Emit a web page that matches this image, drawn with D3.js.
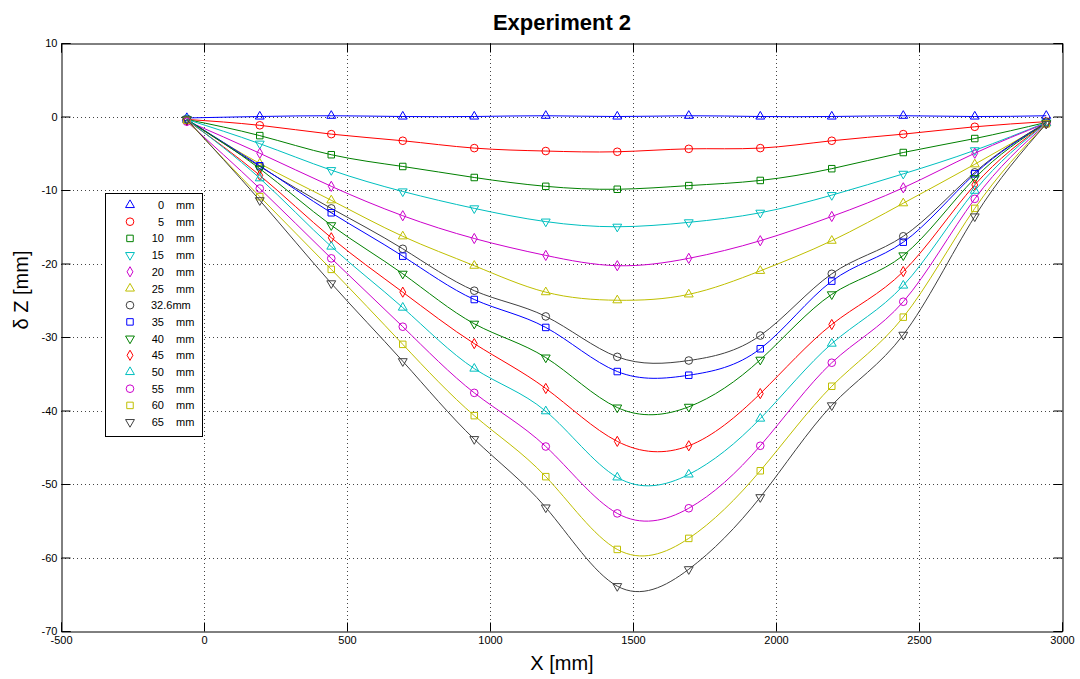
<!DOCTYPE html>
<html>
<head>
<meta charset="utf-8">
<script src="https://cdn.jsdelivr.net/npm/d3@7"></script>
<style>
  body { margin: 0; background: #fff; }
  text { font-family: "Liberation Sans", Arial, sans-serif; }
</style>
</head>
<body>
<div id="app"></div>
<script>
// positions along the beam (mm)
const xPos = [-60, 195, 445, 695, 945, 1195, 1445, 1695, 1945, 2195, 2445, 2695, 2945];

// deflection per load level (mm)
const levels = ["0", "5", "10", "15", "20", "25", "32.6", "35", "40", "45", "50", "55", "60", "65"];
const dz0   = [-0.2, 0, 0.1, 0, 0, 0.1, 0, 0.1, 0, 0, 0.1, 0, 0.1];
const dz5   = [-0.4, -1.2, -2.4, -3.3, -4.3, -4.7, -4.8, -4.4, -4.3, -3.3, -2.4, -1.4, -0.7];
const dz10  = [-0.4, -2.6, -5.2, -6.8, -8.3, -9.5, -9.9, -9.4, -8.7, -7.1, -4.9, -3.0, -0.8];
const dz15  = [-0.4, -3.7, -7.3, -10.2, -12.5, -14.3, -15.0, -14.4, -13.1, -10.7, -7.8, -4.6, -0.8];
const dz20  = [-0.6, -5.0, -9.5, -13.5, -16.6, -18.9, -20.3, -19.3, -16.9, -13.6, -9.7, -5.0, -0.9];
const dz25  = [-0.5, -6.4, -11.4, -16.3, -20.3, -23.9, -25.0, -24.2, -21.0, -16.9, -11.8, -6.5, -0.9];
const dz326 = [-0.4, -6.8, -12.5, -18.0, -23.7, -27.2, -32.7, -33.2, -29.8, -21.4, -16.3, -7.6, -0.8];
const dz35  = [-0.4, -6.7, -13.1, -19.0, -24.9, -28.7, -34.7, -35.2, -31.6, -22.4, -17.1, -7.8, -0.9];
const dz40  = [-0.4, -7.1, -14.8, -21.4, -28.2, -32.8, -39.6, -39.5, -33.1, -24.2, -18.9, -8.4, -0.9];
const dz45  = [-0.5, -8.0, -16.5, -23.9, -30.9, -37.0, -44.2, -44.8, -37.7, -28.3, -21.1, -9.3, -0.9];
const dz50  = [-0.4, -8.4, -17.7, -26.0, -34.3, -40.1, -49.1, -48.7, -41.1, -30.9, -23.0, -10.1, -0.9];
const dz55  = [-0.7, -9.8, -19.3, -28.6, -37.6, -44.9, -54.0, -53.3, -44.8, -33.5, -25.2, -11.2, -1.0];
const dz60  = [-0.5, -10.9, -20.8, -31.0, -40.7, -49.0, -58.9, -57.4, -48.2, -36.7, -27.3, -12.5, -1.0];
const dz65  = [-0.4, -11.4, -22.7, -33.3, -43.9, -53.2, -63.9, -61.6, -51.8, -39.3, -29.7, -13.6, -1.0];

const xTicks = [-500, 0, 500, 1000, 1500, 2000, 2500, 3000];
const yTicks = [10, 0, -10, -20, -30, -40, -50, -60, -70];

const allSeries = [dz0, dz5, dz10, dz15, dz20, dz25, dz326, dz35, dz40, dz45, dz50, dz55, dz60, dz65];
const colors = ["#0000ff", "#ff0000", "#008000", "#00bfbf", "#cc00cc", "#bfbf00", "#404040",
                "#0000ff", "#008000", "#ff0000", "#00bfbf", "#cc00cc", "#bfbf00", "#404040"];
const markers = ["up", "circle", "square", "down", "diamond", "up", "circle",
                 "square", "down", "diamond", "up", "circle", "square", "down"];

const width = 1080, height = 679;
const m = { left: 61, top: 43, right: 1062, bottom: 631 };

const svg = d3.select("#app").append("svg")
  .attr("width", width)
  .attr("height", height);

const x = d3.scaleLinear().domain([-500, 3000]).range([m.left, m.right]);
const y = d3.scaleLinear().domain([-70, 10]).range([m.bottom, m.top]);

// grid
const grid = svg.append("g").attr("stroke", "#444").attr("stroke-dasharray", "1,3").attr("stroke-width", 1);
xTicks.slice(1, -1).forEach(t => {
  grid.append("line").attr("x1", Math.round(x(t)) + 0.5).attr("x2", Math.round(x(t)) + 0.5)
    .attr("y1", m.top).attr("y2", m.bottom);
});
yTicks.slice(1, -1).forEach(t => {
  grid.append("line").attr("y1", Math.round(y(t)) + 0.5).attr("y2", Math.round(y(t)) + 0.5)
    .attr("x1", m.left).attr("x2", m.right);
});

// axes with inside ticks, boxed
const tickLen = 9;
const fmt = d => d3.format("d")(d).replace("−", "-");
svg.append("g").attr("transform", `translate(0,${m.bottom + 0.5})`)
  .call(d3.axisBottom(x).tickValues(xTicks).tickSize(-tickLen).tickPadding(5).tickFormat(fmt));
svg.append("g").attr("transform", `translate(0,${m.top + 0.5})`)
  .call(d3.axisTop(x).tickValues(xTicks).tickSize(-tickLen).tickFormat(""));
svg.append("g").attr("transform", `translate(${m.left + 0.5},0)`)
  .call(d3.axisLeft(y).tickValues(yTicks).tickSize(-tickLen).tickPadding(4).tickFormat(fmt));
svg.append("g").attr("transform", `translate(${m.right + 0.5},0)`)
  .call(d3.axisRight(y).tickValues(yTicks).tickSize(-tickLen).tickFormat(""));

svg.selectAll(".tick text").attr("font-size", 11).attr("fill", "#000")
  .attr("font-family", "'Liberation Sans Narrow', 'Liberation Sans', Arial, sans-serif");
svg.selectAll(".domain").attr("stroke", "#000");

// symbols
function symbolPath(kind) {
  if (kind === "circle") return d3.symbol(d3.symbolCircle, 46)();
  if (kind === "square") return d3.symbol(d3.symbolSquare, 42)();
  if (kind === "diamond") return d3.symbol(d3.symbolDiamond, 30)();
  return d3.symbol(d3.symbolTriangle, 34)();
}
function symbolTransform(kind, px, py) {
  if (kind === "down") return `translate(${px},${py}) rotate(180)`;
  return `translate(${px},${py})`;
}

const line = d3.line()
  .x((d, i) => x(xPos[i]))
  .y(d => y(d))
  .curve(d3.curveNatural);

allSeries.forEach((s, k) => {
  const g = svg.append("g");
  g.append("path").datum(s)
    .attr("d", line)
    .attr("fill", "none")
    .attr("stroke", colors[k])
    .attr("stroke-width", 1);
  g.selectAll("path.mk").data(s).join("path")
    .attr("class", "mk")
    .attr("d", symbolPath(markers[k]))
    .attr("transform", (d, i) => symbolTransform(markers[k], x(xPos[i]), y(d)))
    .attr("fill", "none")
    .attr("stroke", colors[k])
    .attr("stroke-width", 1);
});

// legend
const lg = svg.append("g");
lg.append("rect").attr("x", 105.5).attr("y", 193.5).attr("width", 97).attr("height", 243)
  .attr("fill", "#fff").attr("stroke", "#000");
levels.forEach((lv, k) => {
  const ly = 205 + k * 16.7;
  lg.append("path")
    .attr("d", symbolPath(markers[k]))
    .attr("transform", symbolTransform(markers[k], 130, ly))
    .attr("fill", "none").attr("stroke", colors[k]);
  if (lv === "32.6") {
    lg.append("text").attr("x", 151).attr("y", ly + 4).attr("font-size", 11).text("32.6mm");
  } else {
    lg.append("text").attr("x", 164).attr("y", ly + 4).attr("font-size", 11)
      .attr("text-anchor", "end").text(lv);
    lg.append("text").attr("x", 176).attr("y", ly + 4).attr("font-size", 11).text("mm");
  }
});

// titles
svg.append("text").attr("x", 562).attr("y", 30).attr("text-anchor", "middle")
  .attr("font-size", 22).attr("font-weight", "bold").text("Experiment 2");
svg.append("text").attr("x", 562).attr("y", 670).attr("text-anchor", "middle")
  .attr("font-size", 20).text("X [mm]");
svg.append("text").attr("transform", "translate(28,290) rotate(-90)").attr("text-anchor", "middle")
  .attr("font-size", 20).text("δ Z [mm]");
</script>
</body>
</html>
